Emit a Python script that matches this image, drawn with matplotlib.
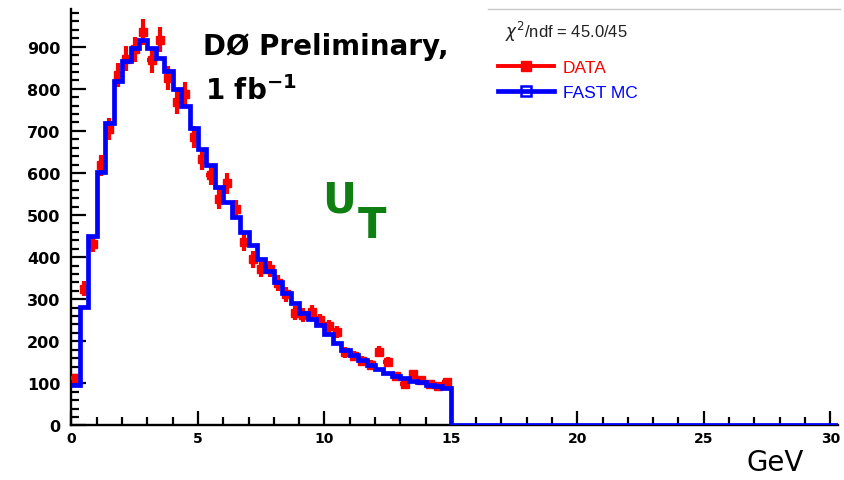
import matplotlib
matplotlib.use('Agg')
import matplotlib.pyplot as plt
from matplotlib.lines import Line2D
from matplotlib.ticker import MultipleLocator
import numpy as np

# ---------------------------------------------------------------------------
# U_T distribution, 45 bins of 1/3 GeV between 0 and 15 GeV
# ---------------------------------------------------------------------------
BIN_LO, BIN_HI, N_BINS = 0.0, 15.0, 45
X_MAX, Y_MAX = 30.3, 990

data = [112, 325, 432, 618, 705, 832, 872, 894, 935, 868,
        917, 826, 768, 787, 685, 633, 595, 538, 575, 514,
        436, 395, 372, 372, 338, 312, 268, 262, 270, 250,
        236, 222, 174, 165, 153, 143, 175, 150, 117, 99,
        121, 108, 98, 94, 102]

fast_mc = [95, 281, 450, 603, 718, 819, 866, 896, 916, 898,
           874, 843, 800, 759, 706, 658, 620, 567, 532, 496,
           460, 428, 395, 368, 340, 315, 290, 268, 252, 238,
           218, 196, 180, 167, 155, 143, 135, 125, 118, 112,
           106, 102, 97, 94, 90]

CHI2_TEXT = r'$\chi^{2}$/ndf = 45.0/45'

edges = np.linspace(BIN_LO, BIN_HI, N_BINS + 1)
centers = 0.5 * (edges[1:] + edges[:-1])
half_w = 0.5 * (edges[1] - edges[0])
data = np.array(data, dtype=float)
fast_mc = np.array(fast_mc, dtype=float)

RED = '#ff0000'
BLUE = '#0000ff'
GREEN = '#0f7f12'

plt.rcParams['font.family'] = ['Liberation Sans', 'DejaVu Sans']

fig = plt.figure(figsize=(8.44, 4.81), dpi=100)
fig.patch.set_facecolor('white')
ax = fig.add_axes([0.0847, 0.1135, 0.908, 0.866])

# data points with stat. errors
ax.errorbar(centers, data, xerr=half_w, yerr=np.sqrt(data),
            fmt='s', ms=6, color=RED, ecolor=RED, elinewidth=3.0,
            capsize=0, zorder=3)

# fast MC histogram, empty beyond 15 GeV
ax.stairs(np.append(fast_mc, 0.0), np.append(edges, X_MAX),
          baseline=None, color=BLUE, lw=3.4, zorder=4)

ax.set_xlim(0, X_MAX)
ax.set_ylim(0, Y_MAX)

for sp in ['top', 'right']:
    ax.spines[sp].set_visible(False)
for sp in ['left', 'bottom']:
    ax.spines[sp].set_linewidth(1.7)
    ax.spines[sp].set_zorder(2)

ax.xaxis.set_major_locator(MultipleLocator(5))
ax.xaxis.set_minor_locator(MultipleLocator(1))
ax.yaxis.set_major_locator(MultipleLocator(100))
ax.yaxis.set_minor_locator(MultipleLocator(20))
ax.tick_params(which='both', direction='in', width=1.6, color='black')
ax.tick_params(axis='y', which='major', length=11, pad=8, labelsize=11.5)
ax.tick_params(axis='y', which='minor', length=6)
ax.tick_params(axis='x', which='major', length=10, pad=4, labelsize=10)
ax.tick_params(axis='x', which='minor', length=6)
for lab in ax.get_xticklabels() + ax.get_yticklabels():
    lab.set_fontweight('bold')
    lab.set_family('DejaVu Sans')

# legend block
fig.text(0.598, 0.933, CHI2_TEXT, fontsize=12, color='#222222',
         ha='left', va='center')
handles = [
    Line2D([0], [0], color=RED, lw=2.8, marker='s', ms=6.5, label='DATA'),
    Line2D([0], [0], color=BLUE, lw=3.4, marker='s', ms=7.5, mfc='none',
           mew=1.8, label='FAST MC'),
]
ax.legend(handles=handles, loc='upper left', bbox_to_anchor=(0.572, 0.905),
          bbox_transform=fig.transFigure, frameon=False, fontsize=12.5,
          handlelength=3.2, handletextpad=0.5, labelspacing=0.55,
          labelcolor='linecolor')
fig.add_artist(Line2D([0.578, 0.995], [0.979, 0.979], color='#c8c8c8',
                      lw=1.0, transform=fig.transFigure))

# headline labels
fig.text(0.2405, 0.886, 'DØ Preliminary,', fontsize=20,
         fontweight='bold', family='DejaVu Sans', ha='left', va='baseline')
fig.text(0.243, 0.792, r'1 fb$^{\mathbf{-1}}$', fontsize=20,
         fontweight='bold', family='DejaVu Sans', ha='left', va='baseline')
fig.text(0.3815, 0.559, 'U', fontsize=30, fontweight='bold',
         family='DejaVu Sans', color=GREEN, ha='left', va='baseline')
fig.text(0.424, 0.505, 'T', fontsize=30, fontweight='bold',
         family='DejaVu Sans', color=GREEN, ha='left', va='baseline')
fig.text(0.918, 0.008, 'GeV', fontsize=20, family='DejaVu Sans',
         ha='center', va='bottom')

fig.savefig('out.png', dpi=100, facecolor='white')
